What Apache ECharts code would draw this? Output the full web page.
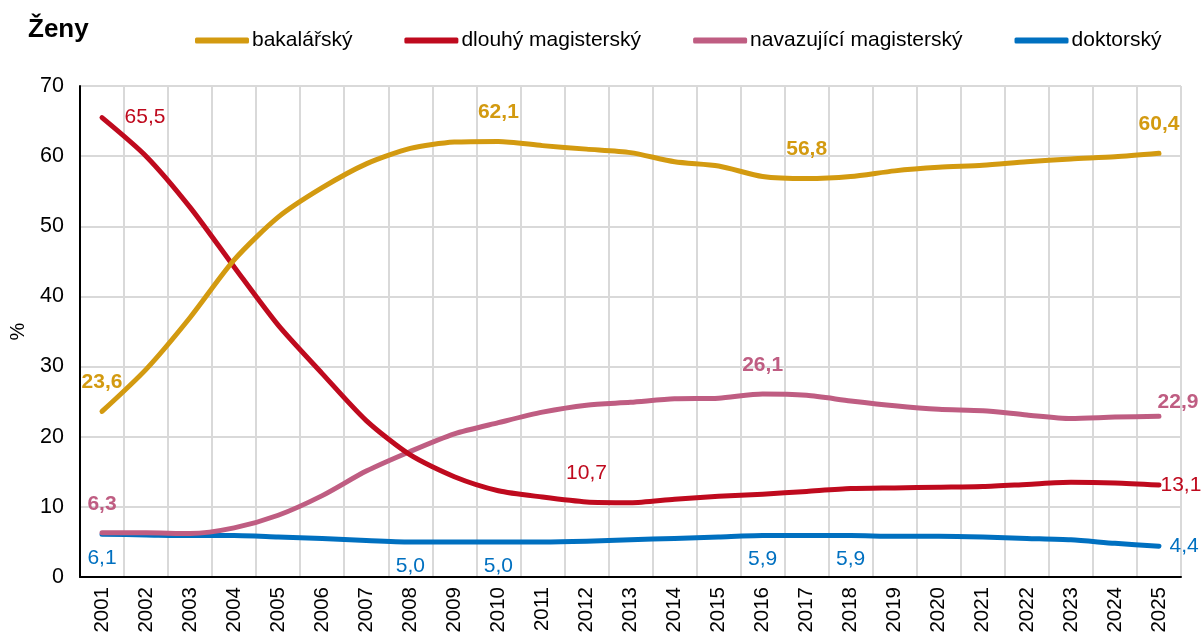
<!DOCTYPE html>
<html>
<head>
<meta charset="utf-8">
<script src="https://cdn.jsdelivr.net/npm/echarts@6/dist/echarts.min.js"></script>
<style>
  html, body { margin: 0; padding: 0; background: #fff; }
  #chart { width: 1204px; height: 639px; }
</style>
</head>
<body>
<div id="chart"></div>
<script>
// roky
const years = ['2001','2002','2003','2004','2005','2006','2007','2008','2009','2010','2011','2012','2013',
  '2014','2015','2016','2017','2018','2019','2020','2021','2022','2023','2024','2025'];

// podíl žen podle typu studijního programu (%)
const bakalarsky = [23.6, 29.6, 37.0, 45.2, 51.3, 55.5, 58.9, 61.1, 62.0, 62.1, 61.5, 61.0, 60.5,
  59.2, 58.6, 57.1, 56.8, 57.1, 57.9, 58.4, 58.7, 59.2, 59.6, 59.9, 60.4];
const dlouhy = [65.5, 60.0, 52.7, 44.2, 35.9, 29.0, 22.3, 17.4, 14.3, 12.3, 11.4, 10.7, 10.6,
  11.1, 11.5, 11.8, 12.2, 12.6, 12.7, 12.8, 12.9, 13.2, 13.5, 13.4, 13.1];
const navazujici = [6.3, 6.3, 6.2, 7.0, 8.8, 11.6, 15.1, 17.9, 20.4, 22.0, 23.5, 24.5, 24.9,
  25.4, 25.5, 26.1, 25.9, 25.1, 24.4, 23.9, 23.7, 23.1, 22.6, 22.8, 22.9];
const doktorsky = [6.1, 6.0, 5.9, 5.9, 5.7, 5.5, 5.2, 5.0, 5.0, 5.0, 5.0, 5.1, 5.3,
  5.5, 5.7, 5.9, 5.9, 5.9, 5.8, 5.8, 5.7, 5.5, 5.3, 4.8, 4.4];

const names = ['bakalářský', 'dlouhý magisterský', 'navazující magisterský', 'doktorský'];
const colors = ['#D39A10', '#BF0A1E', '#BF5D82', '#0070C0'];

// které body mají popisek a kde
const labelTop = { position: 'top', distance: 18 };
const labelBottom = { position: 'bottom', distance: 13 };
const labelSpots = [
  { 0: labelTop, 9: labelTop, 16: labelTop, 24: labelTop },
  { 0: { position: 'right', distance: 22 }, 11: labelTop, 24: { position: 'right', distance: 1 } },
  { 0: labelTop, 15: labelTop, 24: { position: 'top', distance: 3, offset: [19, 0] } },
  { 0: labelBottom, 7: labelBottom, 9: labelBottom, 15: labelBottom, 17: labelBottom,
    24: { position: 'right', distance: 10 } }
];
const boldLabels = [true, false, true, false];

function buildData(values, idx) {
  return values.map((v, i) => {
    const spot = labelSpots[idx][i];
    if (!spot) return v;
    return {
      value: v,
      label: Object.assign({
        show: true,
        color: colors[idx],
        fontSize: 21,
        lineHeight: 21,
        fontFamily: 'Liberation Sans, Arial, sans-serif',
        fontWeight: boldLabels[idx] ? 'bold' : 'normal',
        formatter: (p) => p.value.toFixed(1).replace('.', ',')
      }, spot)
    };
  });
}

const seriesValues = [bakalarsky, dlouhy, navazujici, doktorsky];

const chart = echarts.init(document.getElementById('chart'), null, { renderer: 'canvas' });

chart.setOption({
  animation: false,
  textStyle: { fontFamily: 'Liberation Sans, Arial, sans-serif' },
  title: {
    text: 'Ženy',
    left: 23,
    top: 12,
    textStyle: { fontSize: 26, fontWeight: 'bold', color: '#000' }
  },
  legend: {
    left: 190,
    top: 25,
    itemWidth: 54,
    itemHeight: 6,
    itemGap: 52,
    icon: 'roundRect',
    textStyle: { fontSize: 21, color: '#000', padding: [0, 0, 0, -2] },
    data: names
  },
  grid: { left: 73, right: 23, top: 86, bottom: 62, containLabel: false },
  xAxis: {
    type: 'category',
    data: years,
    boundaryGap: true,
    axisLine: { lineStyle: { color: '#000', width: 2 } },
    axisTick: { show: false },
    axisLabel: { rotate: 90, fontSize: 20.5, color: '#000', margin: 10, interval: 0 },
    splitLine: { show: true, interval: 0, lineStyle: { color: '#d9d9d9', width: 2 } }
  },
  yAxis: {
    type: 'value',
    min: 0,
    max: 70,
    interval: 10,
    name: '%',
    nameLocation: 'middle',
    nameGap: 52,
    nameRotate: 90,
    nameTextStyle: { fontSize: 20, color: '#000' },
    axisLine: { show: true, lineStyle: { color: '#000', width: 2 } },
    axisTick: { show: false },
    axisLabel: { fontSize: 21.5, color: '#000', margin: 16 },
    splitLine: { lineStyle: { color: '#d9d9d9', width: 2 } }
  },
  series: seriesValues.map((vals, idx) => ({
    name: names[idx],
    type: 'line',
    smooth: 0.25,
    data: buildData(vals, idx),
    symbol: 'circle',
    symbolSize: 1,
    showSymbol: true,
    color: colors[idx],
    itemStyle: { color: colors[idx] },
    lineStyle: { width: 5, color: colors[idx], cap: 'round', join: 'round' },
    z: 10 - idx
  }))
});
</script>
</body>
</html>
